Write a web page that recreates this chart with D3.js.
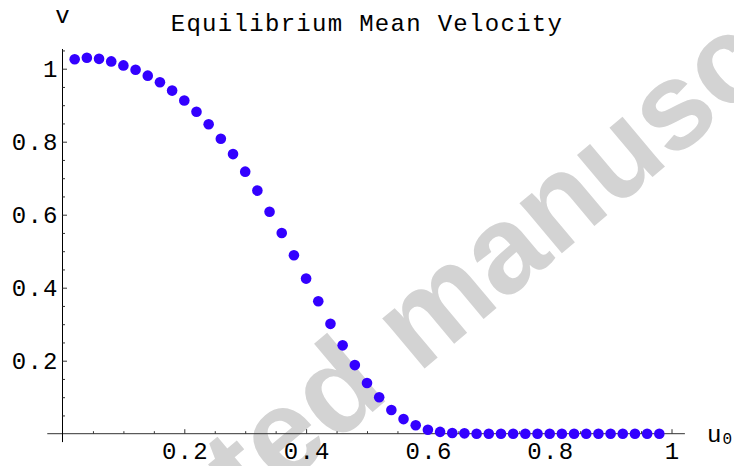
<!DOCTYPE html>
<html>
<head>
<meta charset="utf-8">
<script src="https://cdn.jsdelivr.net/npm/d3@7"></script>
<style>
  html, body { margin: 0; padding: 0; background: #fff; }
  svg { display: block; }
</style>
</head>
<body>
<svg id="chart" width="734" height="466"></svg>
<script>
// ---- data ----
const u0 = [0.02,0.04,0.06,0.08,0.10,0.12,0.14,0.16,0.18,0.20,
            0.22,0.24,0.26,0.28,0.30,0.32,0.34,0.36,0.38,0.40,
            0.42,0.44,0.46,0.48,0.50,0.52,0.54,0.56,0.58,0.60,
            0.62,0.64,0.66,0.68,0.70,0.72,0.74,0.76,0.78,0.80,
            0.82,0.84,0.86,0.88,0.90,0.92,0.94,0.96,0.98];
const velocity = [1.026,1.030,1.027,1.020,1.009,0.997,0.981,0.963,0.940,0.913,
                  0.882,0.848,0.808,0.766,0.718,0.666,0.608,0.550,0.489,0.425,
                  0.363,0.301,0.242,0.188,0.139,0.100,0.065,0.040,0.023,0.011,
                  0.005,0.002,0.001,0.000,0.000,0.000,0.000,0.000,0.000,0.000,
                  0.000,0.000,0.000,0.000,0.000,0.000,0.000,0.000,0.000];
const xMajorTicks = [0.2,0.4,0.6,0.8,1];
const xTickLabels = ["0.2","0.4","0.6","0.8","1"];
const xMinorTicks = [0.05,0.1,0.15,0.25,0.3,0.35,0.45,0.5,0.55,0.65,0.7,0.75,0.85,0.9,0.95];
const yMajorTicks = [0.2,0.4,0.6,0.8,1];
const yTickLabels = ["0.2","0.4","0.6","0.8","1"];
const yMinorTicks = [0.05,0.1,0.15,0.25,0.3,0.35,0.45,0.5,0.55,0.65,0.7,0.75,0.85,0.9,0.95,1.05];
const titleText = "Equilibrium Mean Velocity";
const yLabel = "v";
const xLabel = "u";
const xLabelSub = "0";
const watermark = "Accepted manuscript";

// ---- layout ----
const svg = d3.select("#chart");
const x = d3.scaleLinear().domain([0, 1]).range([62.5, 671.5]);
const y = d3.scaleLinear().domain([0, 1]).range([433.7, 68.7]);
const mono = "'Liberation Mono', 'Courier New', monospace";
const fs = 24, ls = 1.3;
const dotColor = "#3300ff";

// watermark (behind everything)
const wmSize = 124;
const wmAngle = -40;
const wmFont = "'Liberation Sans', Arial, sans-serif";
const wmG = svg.append("g").attr("transform", `translate(418,374) rotate(${wmAngle})`);
const wmText = wmG.append("text")
  .attr("font-family", wmFont)
  .attr("font-weight", "bold")
  .attr("font-size", wmSize)
  .attr("fill", "#d3d3d3")
  .text(watermark);
const tmp = wmG.append("text")
  .attr("font-family", wmFont)
  .attr("font-weight", "bold")
  .attr("font-size", wmSize)
  .text("Accepted\u00a0");
const offs = tmp.node().getComputedTextLength();
tmp.remove();
wmText.attr("x", -offs);

// axis lines
svg.append("line")
  .attr("x1", x(-0.025)).attr("x2", x(1.022))
  .attr("y1", y(0)).attr("y2", y(0))
  .attr("stroke", "#333").attr("stroke-width", 1);
svg.append("line")
  .attr("x1", x(0)).attr("x2", x(0))
  .attr("y1", y(1.054)).attr("y2", y(-0.023))
  .attr("stroke", "#000").attr("stroke-width", 1);

// x axis ticks
const gxMinor = svg.append("g").attr("transform", `translate(0,${y(0)})`)
  .call(d3.axisBottom(x).tickValues(xMinorTicks).tickSize(-2.5).tickFormat(""));
const gxMajor = svg.append("g").attr("transform", `translate(0,${y(0)})`)
  .call(d3.axisBottom(x).tickValues(xMajorTicks).tickSize(-4.5)
        .tickFormat((d, i) => xTickLabels[i]));
[gxMinor, gxMajor].forEach(g => {
  g.select(".domain").remove();
  g.selectAll("line").attr("stroke", "#333");
});
gxMajor.selectAll("text")
  .attr("y", 25.5).attr("dy", null).attr("x", ls / 2)
  .attr("font-family", mono).attr("font-size", fs).attr("letter-spacing", ls)
  .attr("fill", "#000");

// y axis ticks
const gyMinor = svg.append("g").attr("transform", `translate(${x(0)},0)`)
  .call(d3.axisLeft(y).tickValues(yMinorTicks).tickSize(-2.5).tickFormat(""));
const gyMajor = svg.append("g").attr("transform", `translate(${x(0)},0)`)
  .call(d3.axisLeft(y).tickValues(yMajorTicks).tickSize(-4.5)
        .tickFormat((d, i) => yTickLabels[i]));
[gyMinor, gyMajor].forEach(g => {
  g.select(".domain").remove();
  g.selectAll("line").attr("stroke", "#333");
});
gyMajor.selectAll("text")
  .attr("x", -5 + ls).attr("dy", "0.33em")
  .attr("font-family", mono).attr("font-size", fs).attr("letter-spacing", ls)
  .attr("fill", "#000");

// points
svg.append("g").selectAll("circle")
  .data(u0.map((d, i) => [d, velocity[i]]))
  .join("circle")
  .attr("cx", d => x(d[0]))
  .attr("cy", d => y(d[1]))
  .attr("r", 5.3)
  .attr("fill", dotColor);

// title and labels
svg.append("text")
  .attr("x", 367).attr("y", 30.5)
  .attr("text-anchor", "middle")
  .attr("font-family", mono).attr("font-size", fs).attr("letter-spacing", ls)
  .attr("fill", "#000")
  .text(titleText);
svg.append("text")
  .attr("x", x(0)).attr("y", 23)
  .attr("text-anchor", "middle")
  .attr("font-family", mono).attr("font-size", fs).attr("fill", "#000")
  .text(yLabel);
const xl = svg.append("text")
  .attr("x", 707).attr("y", 442)
  .attr("font-family", mono).attr("font-size", fs).attr("fill", "#000");
xl.append("tspan").text(xLabel);
xl.append("tspan").attr("dy", 2).attr("dx", 1).attr("font-size", 16).text(xLabelSub);
</script>
</body>
</html>
